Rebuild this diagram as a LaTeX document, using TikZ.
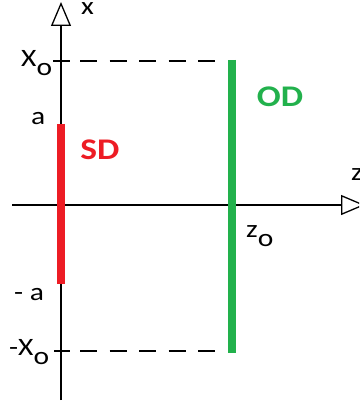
\documentclass[tikz,border=0pt]{standalone}
\usepackage{fontspec}
\setmainfont{Carlito}[FakeStretch=1.18]
\usetikzlibrary{arrows.meta}
\definecolor{odgreen}{HTML}{22B14C}
\definecolor{sdred}{HTML}{ED1C24}
\tikzset{
  axis/.style={line width=1.3pt, black, -{Triangle[open, length=24pt, width=20pt, line width=1.3pt]}},
  tickmark/.style={line width=1.3pt},
  guide/.style={line width=1.3pt, dash pattern=on 17pt off 12.5pt, dash phase=19.5pt},
  detector/.style={line width=8.5pt},
  lbl/.style={inner sep=0pt, font=\fontsize{25}{30}\selectfont},
  big/.style={inner sep=0pt, font=\fontsize{30}{36}\selectfont\bfseries},
}
\newcommand{\subo}{\raisebox{-9pt}{o}}
\begin{document}
\begin{tikzpicture}[x=1pt,y=-1pt]
\useasboundingbox (0,0) rectangle (359,403);
\clip (0,0) rectangle (359,403);
% coordinates
\coordinate (vb) at (61,400);
\coordinate (vt) at (61,2);
\coordinate (hl) at (12,205);
\coordinate (hr) at (365,205);
\coordinate (t1a) at (53,61);
\coordinate (t1b) at (70,61);
\coordinate (t2a) at (54,351);
\coordinate (t2b) at (70,351);
\coordinate (d1e) at (226,61);
\coordinate (d2e) at (226,351);
\coordinate (gt) at (232,60);
\coordinate (gb) at (232,353);
\coordinate (rt) at (61,124);
\coordinate (rb) at (61,284);
% axes
\draw[axis] (vb) -- (vt);
\draw[axis] (hl) -- (hr);
% ticks and dashed guides
\draw[tickmark] (t1a) -- (t1b);
\draw[tickmark] (t2a) -- (t2b);
\draw[guide] (t1b) -- (d1e);
\draw[guide] (t2b) -- (d2e);
% detectors
\draw[detector, odgreen] (gt) -- (gb);
\draw[detector, sdred] (rt) -- (rb);
% labels
\node[lbl, anchor=base west] (lx) at (81,15) {x};
\node[lbl, anchor=base west] (lX) at (21,67) {X\subo};
\node[lbl, anchor=base west] (la) at (31,125) {a};
\node[lbl, anchor=base west] (lma) at (14,300) {- a};
\node[lbl, anchor=base west] (lmX) at (9,355) {-X\subo};
\node[lbl, anchor=base west] (lz0) at (246,237) {z\subo};
\node[lbl, anchor=base west] (lz) at (351,180) {z};
\node[big, sdred] (sd) at (100,150) {SD};
\node[big, odgreen] (od) at (280,97) {OD};
\end{tikzpicture}
\end{document}
